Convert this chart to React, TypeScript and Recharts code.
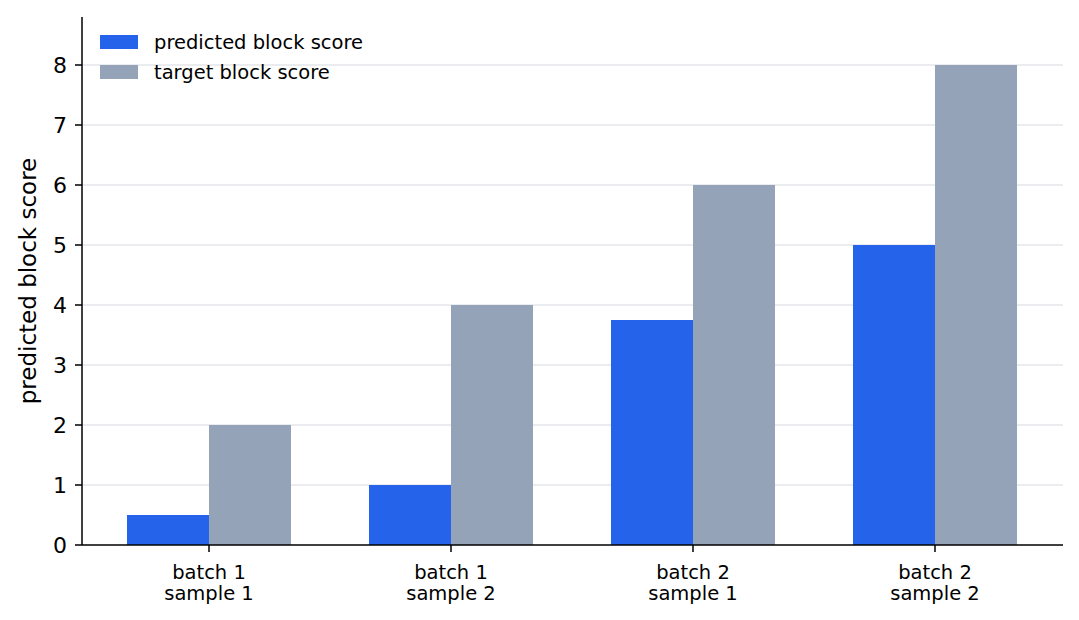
import React from "react";
import { BarChart, Bar, XAxis, YAxis, CartesianGrid } from "recharts";

const categories = ["batch 1\nsample 1", "batch 1\nsample 2", "batch 2\nsample 1", "batch 2\nsample 2"];
const predicted = [0.5, 1, 3.75, 5];
const target = [2, 4, 6, 8];
const yTicks = [0, 1, 2, 3, 4, 5, 6, 7, 8];

const BLUE = "#2563eb";
const GRAY = "#94a3b8";
const FONT = "DejaVu Sans, sans-serif";

const data = categories.map((name, i) => ({
  name,
  predicted: predicted[i],
  target: target[i],
}));

const legendItems = [
  { label: "predicted block score", color: BLUE },
  { label: "target block score", color: GRAY },
];

// grid lines only at the integer ticks above zero (no line at the top edge)
function gridLines({ yAxis }: any) {
  const s = yAxis?.scale;
  const fn = typeof s === "function" ? s : typeof s?.map === "function" ? (v: number) => s.map(v) : null;
  if (!fn) return [];
  return yTicks.slice(1).map((t) => fn(t));
}

function XTick({ x, y, payload }: any) {
  const lines = String(payload.value).split("\n");
  return (
    <text x={x} y={y + 25} textAnchor="middle" fontFamily={FONT} fontSize={19.5} fill="#000">
      {lines.map((l, i) => (
        <tspan key={i} x={x} dy={i === 0 ? 0 : 21}>
          {l}
        </tspan>
      ))}
    </text>
  );
}

export default function App() {
  return (
    <div style={{ margin: -8 }}>
      <style>{"body{margin:0}"}</style>
      <div style={{ margin: 8, width: 1079, height: 620, background: "#fff", position: "relative" }}>
        <BarChart
          width={1079}
          height={620}
          data={data}
          margin={{ top: 17, right: 16, left: 0, bottom: 0 }}
          barGap={0}
        >
          <CartesianGrid
            vertical={false}
            stroke="#d6d9e0"
            strokeWidth={1.2}
            horizontalCoordinatesGenerator={gridLines}
          />
          <XAxis
            dataKey="name"
            height={75}
            padding={{ left: 6, right: 7 }}
            tick={<XTick />}
            tickSize={7}
            axisLine={{ stroke: "#000", strokeWidth: 1.5 }}
            tickLine={{ stroke: "#000", strokeWidth: 1.5 }}
            interval={0}
          />
          <YAxis
            width={82}
            domain={[0, 8.8]}
            ticks={yTicks}
            tickSize={7}
            tickMargin={8}
            tick={{ fontFamily: FONT, fontSize: 22, fill: "#000" }}
            axisLine={{ stroke: "#000", strokeWidth: 1.5 }}
            tickLine={{ stroke: "#000", strokeWidth: 1.5 }}
            label={{
              value: "predicted block score",
              angle: -90,
              position: "insideLeft",
              dx: 23,
              style: { fontFamily: FONT, fontSize: 23, fill: "#000", textAnchor: "middle" },
            }}
          />
          <Bar dataKey="predicted" name="predicted block score" fill={BLUE} barSize={82} isAnimationActive={false} />
          <Bar dataKey="target" name="target block score" fill={GRAY} barSize={82} isAnimationActive={false} />
        </BarChart>
        <div style={{ position: "absolute", left: 100, top: 27, fontFamily: FONT, fontSize: 19.5 }}>
          {legendItems.map((it) => (
            <div key={it.label} style={{ display: "flex", alignItems: "center", height: 30 }}>
              <span style={{ width: 38, height: 14, background: it.color, marginRight: 16 }} />
              <span>{it.label}</span>
            </div>
          ))}
        </div>
      </div>
    </div>
  );
}
